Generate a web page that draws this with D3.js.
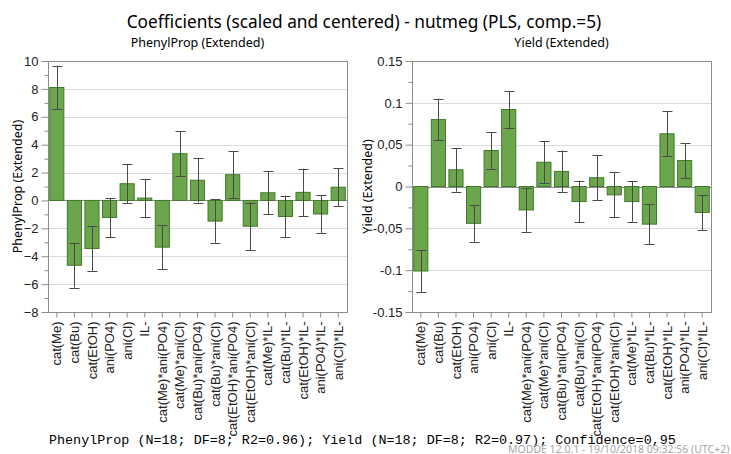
<!DOCTYPE html>
<html lang="en">
<head>
<meta charset="UTF-8">
<title>Coefficients - nutmeg</title>
<script src="https://d3js.org/d3.v7.min.js"></script>
<style>
    body { margin: 0; background: #fff; }
    svg { display: block; font-family: "Noto Sans", "Open Sans", sans-serif; }
    .grid line { stroke: #dcdcdc; }
    .frame { fill: none; stroke: #8c8c8c; }
    .bar { fill: #6ca64c; stroke: #3f7a28; stroke-width: 1; }
    .err { stroke: #4a4a4a; stroke-width: 1; fill: none; }
</style>
</head>
<body>
<svg></svg>
<script>
    const width = 731, height = 454;

    const terms = ["cat(Me)", "cat(Bu)", "cat(EtOH)", "ani(PO4)", "ani(Cl)", "IL-",
        "cat(Me)*ani(PO4)", "cat(Me)*ani(Cl)", "cat(Bu)*ani(PO4)", "cat(Bu)*ani(Cl)",
        "cat(EtOH)*ani(PO4)", "cat(EtOH)*ani(Cl)", "cat(Me)*IL-", "cat(Bu)*IL-",
        "cat(EtOH)*IL-", "ani(PO4)*IL-", "ani(Cl)*IL-"];

    // PhenylProp coefficients and confidence half-widths
    const phenylCoef = [8.1, -4.65, -3.45, -1.22, 1.2, 0.17, -3.35, 3.35, 1.45, -1.48, 1.85, -1.85, 0.55, -1.15, 0.58, -0.97, 0.95];
    const phenylConf = [1.57, 1.6, 1.6, 1.4, 1.4, 1.36, 1.6, 1.6, 1.6, 1.55, 1.7, 1.7, 1.55, 1.5, 1.7, 1.35, 1.35];
    const phenylTicks = [10, 8, 6, 4, 2, 0, -2, -4, -6, -8];

    // Yield coefficients and confidence half-widths
    const yieldCoef = [-0.101, 0.08, 0.02, -0.044, 0.043, 0.092, -0.028, 0.029, 0.018, -0.018, 0.0105, -0.01, -0.018, -0.045, 0.063, 0.031, -0.031];
    const yieldConf = [0.025, 0.025, 0.026, 0.022, 0.022, 0.022, 0.026, 0.025, 0.025, 0.025, 0.027, 0.027, 0.024, 0.024, 0.027, 0.021, 0.021];
    const yieldTicks = [0.15, 0.1, 0.05, 0, -0.05, -0.1, -0.15];
    const yieldTickLabels = ["0.15", "0.1", "0,05", "0", "-0,05", "-0.1", "-0.15"];

    const svg = d3.select("svg").attr("width", width).attr("height", height);

    svg.append("text")
        .attr("x", 364).attr("y", 28)
        .attr("text-anchor", "middle")
        .style("font-size", "17.3px")
        .text("Coefficients (scaled and centered) - nutmeg (PLS, comp.=5)");

    function panel(opt) {
        const x = d3.scaleBand().domain(terms).range([opt.left, opt.right])
            .paddingInner(0.14).paddingOuter(0.07);
        const y = d3.scaleLinear().domain(opt.domain).range([312, 61]);
        const g = svg.append("g");

        g.append("text")
            .attr("x", (opt.left + opt.right) / 2).attr("y", 47)
            .attr("text-anchor", "middle")
            .style("font-size", "12.5px")
            .text(opt.title);

        g.append("text")
            .attr("transform", `translate(${opt.left - 26 - opt.labelShift},186.5) rotate(-90)`)
            .attr("text-anchor", "middle")
            .style("font-size", "12.5px")
            .text(opt.title);

        // grid
        g.append("g").attr("class", "grid").selectAll("line")
            .data(opt.ticks.filter(t => t !== opt.domain[0] && t !== opt.domain[1]))
            .join("line")
            .attr("x1", opt.left).attr("x2", opt.right)
            .attr("y1", d => Math.round(y(d)) + 0.5).attr("y2", d => Math.round(y(d)) + 0.5)
            .style("stroke", d => d === 0 ? "#8c8c8c" : null);

        // bars
        const coef = opt.coef, conf = opt.conf;
        g.selectAll(".bar").data(terms).join("rect")
            .attr("class", "bar")
            .attr("x", d => x(d) + 0.5)
            .attr("width", x.bandwidth() - 1)
            .attr("y", (d, i) => y(Math.max(0, coef[i])))
            .attr("height", (d, i) => Math.abs(y(coef[i]) - y(0)));

        // error bars
        const eb = g.selectAll(".eb").data(terms).join("g").attr("class", "err");
        const cx = d => Math.round(x(d) + x.bandwidth() / 2) + 0.5;
        eb.append("line")
            .attr("x1", cx).attr("x2", cx)
            .attr("y1", (d, i) => y(coef[i] + conf[i]))
            .attr("y2", (d, i) => y(coef[i] - conf[i]));
        eb.append("line")
            .attr("x1", d => cx(d) - 5).attr("x2", d => cx(d) + 5)
            .attr("y1", (d, i) => Math.round(y(coef[i] + conf[i])) + 0.5)
            .attr("y2", (d, i) => Math.round(y(coef[i] + conf[i])) + 0.5);
        eb.append("line")
            .attr("x1", d => cx(d) - 5).attr("x2", d => cx(d) + 5)
            .attr("y1", (d, i) => Math.round(y(coef[i] - conf[i])) + 0.5)
            .attr("y2", (d, i) => Math.round(y(coef[i] - conf[i])) + 0.5);

        // frame
        g.append("rect").attr("class", "frame")
            .attr("x", opt.left + 0.5).attr("y", 61.5)
            .attr("width", opt.right - opt.left).attr("height", 251);

        // y axis
        const yAxis = d3.axisLeft(y).tickValues(opt.ticks)
            .tickSize(7).tickPadding(3)
            .tickFormat((d, i) => opt.tickLabels ? opt.tickLabels[i] : d3.format("")(d));
        const ya = g.append("g").attr("transform", `translate(${opt.left + 0.5},0)`).call(yAxis);
        ya.select(".domain").remove();
        ya.selectAll("line").attr("stroke", "#8c8c8c");
        ya.selectAll("text").style("font-size", "13px").attr("fill", "#222");
        const yMinor = d3.axisLeft(y).tickValues(opt.minor).tickSize(4).tickFormat("");
        const ym = g.append("g").attr("transform", `translate(${opt.left + 0.5},0)`).call(yMinor);
        ym.select(".domain").remove();
        ym.selectAll("line").attr("stroke", "#8c8c8c");

        // x axis
        const xAxis = d3.axisBottom(x).tickSize(5).tickPadding(4);
        const xa = g.append("g").attr("transform", "translate(0,312.5)").call(xAxis);
        xa.select(".domain").remove();
        xa.selectAll("line").attr("stroke", "#8c8c8c");
        xa.selectAll("text")
            .style("font-size", "13px").attr("fill", "#222")
            .attr("text-anchor", "end")
            .attr("transform", "translate(0,4) rotate(-90)")
            .attr("x", -5).attr("y", 0).attr("dy", "0.35em");
    }

    panel({
        left: 48, right: 347, domain: [-8, 10], ticks: phenylTicks,
        minor: d3.range(-7, 10, 2), coef: phenylCoef, conf: phenylConf,
        title: "PhenylProp (Extended)", labelShift: 0
    });
    panel({
        left: 412, right: 711, domain: [-0.15, 0.15], ticks: yieldTicks, tickLabels: yieldTickLabels,
        minor: [-0.125, -0.075, -0.025, 0.025, 0.075, 0.125], coef: yieldCoef, conf: yieldConf,
        title: "Yield (Extended)", labelShift: 14
    });

    svg.append("text")
        .attr("x", 49).attr("y", 444)
        .style("font-family", "'Liberation Mono', 'DejaVu Sans Mono', monospace")
        .style("font-size", "13.4px")
        .text("PhenylProp (N=18; DF=8; R2=0.96); Yield (N=18; DF=8; R2=0.97); Confidence=0,95");

    svg.append("text")
        .attr("x", 508).attr("y", 453)
        .attr("fill", "#a8a8a8")
        .style("font-size", "10.5px")
        .text("MODDE 12.0.1 - 19/10/2018 09:32:56 (UTC+2)");
</script>
</body>
</html>
